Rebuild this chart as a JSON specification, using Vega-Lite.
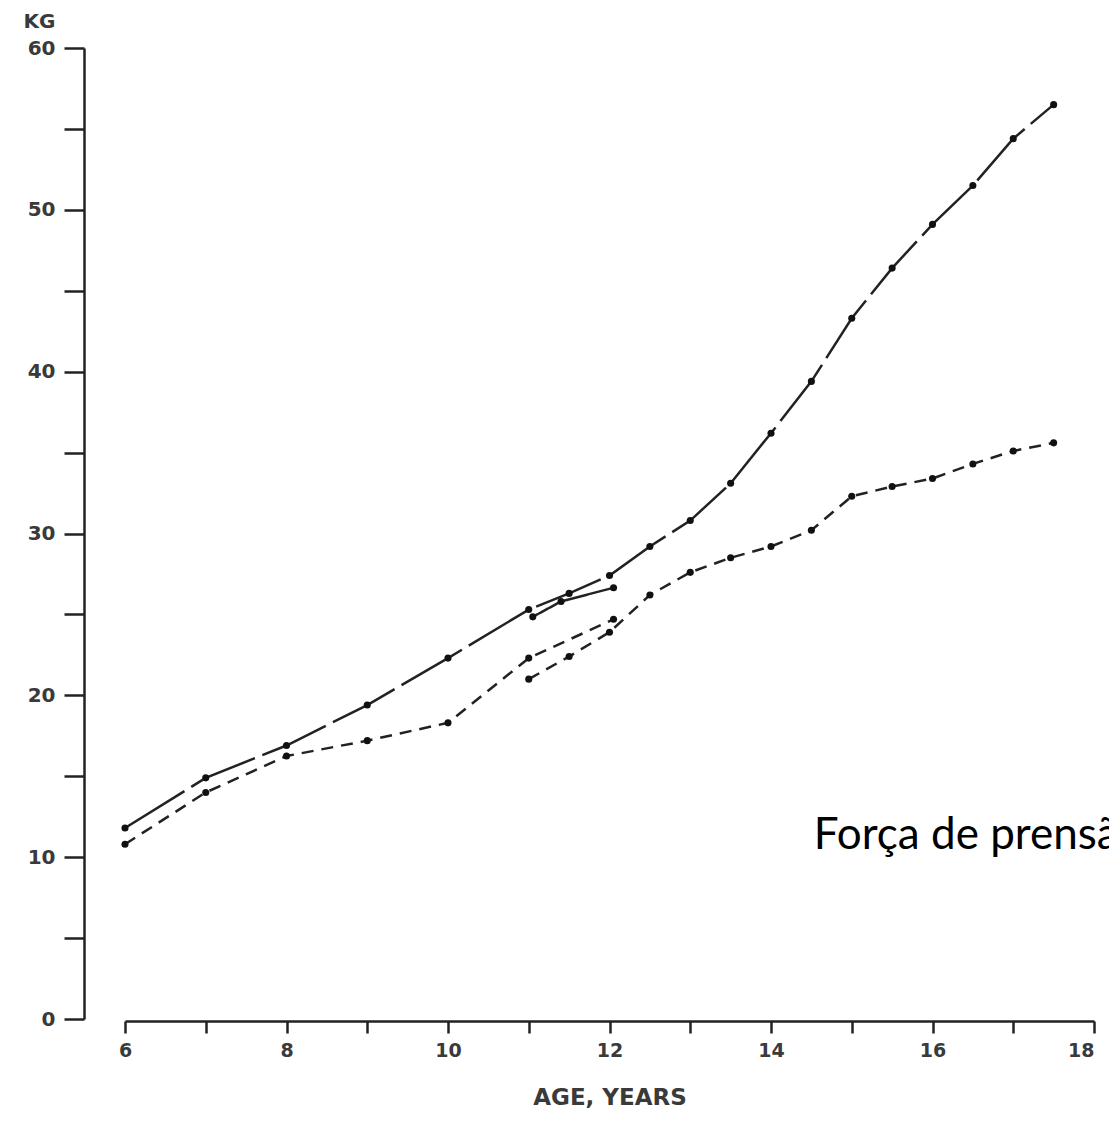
{
  "$schema": "https://vega.github.io/schema/vega-lite/v6.json",
  "width": 969,
  "height": 971,
  "autosize": {"type": "none"},
  "padding": {"left": 125, "top": 48, "right": 15, "bottom": 104},
  "background": "white",
  "config": {
    "view": {"stroke": null},
    "axis": {
      "labelFont": "DejaVu Sans",
      "labelFontWeight": "bold",
      "labelFontSize": 20,
      "labelColor": "#3a3a3a",
      "titleFont": "DejaVu Sans",
      "titleFontWeight": "bold",
      "titleFontSize": 20,
      "titleColor": "#3a3a3a",
      "domainColor": "#222",
      "domainWidth": 2.5,
      "tickColor": "#222",
      "tickWidth": 2.5,
      "grid": false
    }
  },
  "datasets": {
    "lines": [
      {"series": "A", "age": 6, "kg": 11.8},
      {"series": "A", "age": 7, "kg": 14.9},
      {"series": "A", "age": 8, "kg": 16.9},
      {"series": "A", "age": 9, "kg": 19.4},
      {"series": "A", "age": 10, "kg": 22.3},
      {"series": "A", "age": 11, "kg": 25.3},
      {"series": "A", "age": 11.5, "kg": 26.3},
      {"series": "A", "age": 12, "kg": 27.4},
      {"series": "A", "age": 12.5, "kg": 29.2},
      {"series": "A", "age": 13, "kg": 30.8},
      {"series": "A", "age": 13.5, "kg": 33.1},
      {"series": "A", "age": 14, "kg": 36.2},
      {"series": "A", "age": 14.5, "kg": 39.4},
      {"series": "A", "age": 15, "kg": 43.3},
      {"series": "A", "age": 15.5, "kg": 46.4},
      {"series": "A", "age": 16, "kg": 49.1},
      {"series": "A", "age": 16.5, "kg": 51.5},
      {"series": "A", "age": 17, "kg": 54.4},
      {"series": "A", "age": 17.5, "kg": 56.5},
      {"series": "B", "age": 11.05, "kg": 24.85},
      {"series": "B", "age": 11.4, "kg": 25.8},
      {"series": "B", "age": 12.05, "kg": 26.65},
      {"series": "C", "age": 6, "kg": 10.8},
      {"series": "C", "age": 7, "kg": 14.0},
      {"series": "C", "age": 8, "kg": 16.25},
      {"series": "C", "age": 9, "kg": 17.2},
      {"series": "C", "age": 10, "kg": 18.3},
      {"series": "C", "age": 11, "kg": 22.3},
      {"series": "C", "age": 12.05, "kg": 24.7},
      {"series": "D", "age": 11, "kg": 21.0},
      {"series": "D", "age": 11.5, "kg": 22.4},
      {"series": "D", "age": 12, "kg": 23.9},
      {"series": "D", "age": 12.5, "kg": 26.2},
      {"series": "D", "age": 13, "kg": 27.6},
      {"series": "D", "age": 13.5, "kg": 28.5},
      {"series": "D", "age": 14, "kg": 29.2},
      {"series": "D", "age": 14.5, "kg": 30.2},
      {"series": "D", "age": 15, "kg": 32.3},
      {"series": "D", "age": 15.5, "kg": 32.9},
      {"series": "D", "age": 16, "kg": 33.4},
      {"series": "D", "age": 16.5, "kg": 34.3},
      {"series": "D", "age": 17, "kg": 35.1},
      {"series": "D", "age": 17.5, "kg": 35.6}
    ],
    "note": [
      {"age": 14.53, "kg": 10.5, "label": "Força de prensão"}
    ]
  },
  "layer": [
    {
      "data": {"name": "lines"},
      "mark": {"type": "line", "color": "#222", "strokeWidth": 2.5},
      "encoding": {
        "x": {
          "field": "age", "type": "quantitative",
          "scale": {"domain": [6, 18], "nice": false, "zero": false},
          "axis": {
            "title": "AGE, YEARS",
            "titleFontSize": 23,
            "format": "d",
            "labelFontSize": 19,
            "values": [6, 7, 8, 9, 10, 11, 12, 13, 14, 15, 16, 17, 18],
            "labelExpr": "datum.value % 2 == 0 ? datum.label : ''",
            "labelAlign": {"condition": {"test": "datum.value == 18", "value": "right"}, "value": "center"},
            "labelFlush": false,
            "labelOverlap": false,
            "offset": 2,
            "tickSize": 12,
            "labelPadding": 8,
            "titlePadding": 26
          }
        },
        "y": {
          "field": "kg", "type": "quantitative",
          "scale": {"domain": [0, 60], "nice": false},
          "axis": {
            "title": "KG",
            "titleAngle": 0,
            "titleAlign": "right",
            "titleBaseline": "alphabetic",
            "titleX": -29,
            "titleY": -21,
            "format": "d",
            "values": [0, 5, 10, 15, 20, 25, 30, 35, 40, 45, 50, 55, 60],
            "labelExpr": "datum.value % 10 == 0 ? datum.label : ''",
            "labelFlush": false,
            "offset": 41,
            "tickSize": 20,
            "labelPadding": 9
          }
        },
        "strokeDash": {
          "field": "series", "type": "nominal",
          "scale": {"domain": ["A", "B", "C", "D"], "range": [[70, 8], [1, 0], [12, 8], [12, 8]]},
          "legend": null
        }
      }
    },
    {
      "data": {"name": "lines"},
      "mark": {"type": "point", "filled": true, "color": "#111", "size": 50, "opacity": 1},
      "encoding": {
        "x": {"field": "age", "type": "quantitative"},
        "y": {"field": "kg", "type": "quantitative"}
      }
    },
    {
      "data": {"name": "note"},
      "mark": {"type": "text", "align": "left", "baseline": "alphabetic", "font": "Lato", "fontSize": 44, "color": "#000"},
      "encoding": {
        "x": {"field": "age", "type": "quantitative"},
        "y": {"field": "kg", "type": "quantitative"},
        "text": {"field": "label"}
      }
    }
  ]
}
